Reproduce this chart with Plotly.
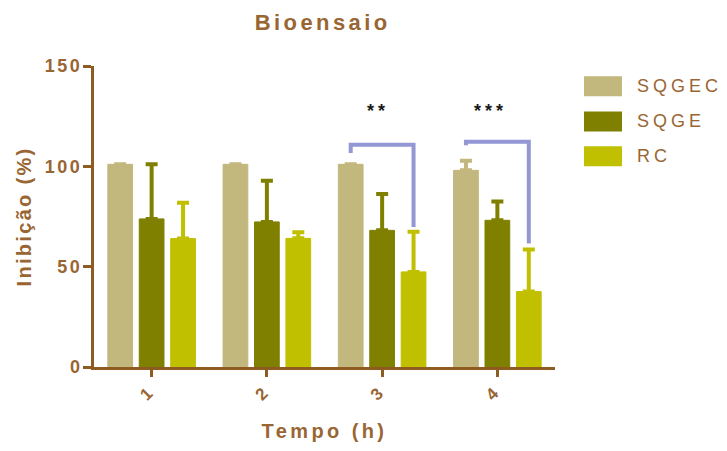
import plotly.graph_objects as go

# ---- data ----
tempo = [1, 2, 3, 4]
tick_labels = ["1", "2", "3", "4"]
y_ticks = [0, 50, 100, 150]
series_names = ["SQGEC", "SQGE", "RC"]
sqgec = [101, 101, 101, 98]
sqgec_err = [0, 0, 0, 4.8]
sqge = [73.8, 72.3, 68.1, 73.1]
sqge_err = [27.3, 20.5, 18.1, 9.4]
rc = [64.0, 64.1, 47.4, 37.6]
rc_err = [17.8, 3.0, 20.0, 21.0]
# significance brackets
sig_groups = [3, 4]
sig_labels = ["**", "***"]
sig_left_end = [106.6, 110.5]
sig_level = [110.7, 112.3]
sig_right_end = [69.8, 61.5]
sig_text_x = [2.968, 3.942]
sig_text_y = 127.5

# ---- style ----
colors = ["#C2B77C", "#808000", "#C0C000"]
axis_col = "#8E5C20"
text_col = "#996633"
bracket_col = "#9397D3"
FONT = "Liberation Sans, Arial, sans-serif"
BARGAP = 0.182
BARGROUPGAP = 0.213


def spaced(t, px):
    return f'<span style="letter-spacing:{px}px">{t}</span>'


fig = go.Figure()
for name, vals, errs, col in zip(series_names, [sqgec, sqge, rc],
                                 [sqgec_err, sqge_err, rc_err], colors):
    fig.add_trace(go.Bar(
        x=tempo, y=vals, name=name,
        marker=dict(color=col, line=dict(color=col, width=1)),
        error_y=dict(type="data", symmetric=False, array=errs,
                     arrayminus=[0] * len(errs), color=col,
                     thickness=4, width=6),
        showlegend=False,
    ))

slot = (1 - BARGAP) / 3.0
for g, lab, le, lv, re_, tx in zip(sig_groups, sig_labels, sig_left_end,
                                    sig_level, sig_right_end, sig_text_x):
    xl = g - slot
    xr = g + slot
    fig.add_shape(type="path", xref="x", yref="y",
                  path=f"M{xl},{le} L{xl},{lv} L{xr},{lv} L{xr},{re_}",
                  line=dict(color=bracket_col, width=4))
    fig.add_annotation(x=tx, y=sig_text_y, xref="x", yref="y", text=spaced(lab, 4),
                       showarrow=False,
                       font=dict(family=FONT, size=18, color="#1a1a1a", weight="bold"))

# manual legend (wide swatches like the original)
row_y = [0.9326, 0.816, 0.700]
for name, col, ry in zip(series_names, colors, row_y):
    fig.add_shape(type="rect", xref="paper", yref="paper",
                  x0=1.0629, x1=1.1453, y0=ry - 0.0332, y1=ry + 0.0332,
                  fillcolor=col, line=dict(width=0))
    fig.add_annotation(x=1.1735, y=ry, xref="paper", yref="paper", text=spaced(name, 4),
                       showarrow=False, xanchor="left", yanchor="middle",
                       font=dict(family=FONT, size=18, color=text_col))

# page body has an 8px margin -> figure is 8px smaller and margins shifted by 8
W, H = 719, 443
fig.update_layout(
    width=W, height=H,
    margin=dict(l=86, r=172, t=58, b=84, autoexpand=False),
    paper_bgcolor="white", plot_bgcolor="white",
    barmode="group", bargap=BARGAP, bargroupgap=BARGROUPGAP,
    font=dict(family=FONT, color=text_col),
    title=dict(text="<b>" + spaced("Bioensaio", 3.4) + "</b>", x=0.496, xref="paper",
               xanchor="center", y=1 - 14 / H, yref="container", yanchor="middle",
               font=dict(family=FONT, size=22, color=text_col)),
)
fig.update_xaxes(
    range=[0.5, 4.5], tickvals=tempo, ticktext=tick_labels, tickangle=-45,
    ticklabelshift=-4,
    showline=True, linecolor=axis_col, linewidth=3,
    ticks="outside", ticklen=7, tickwidth=3, tickcolor=axis_col,
    tickfont=dict(family=FONT, size=17, color=text_col, weight="bold"),
    showgrid=False, zeroline=False, automargin=False,
    title=dict(text="<b>" + spaced("Tempo (h)", 3.4) + "</b>",
               font=dict(family=FONT, size=20, color=text_col), standoff=21),
)
fig.update_yaxes(
    range=[0, 150], tickvals=y_ticks, ticktext=[spaced(str(v), 2.5) for v in y_ticks],
    ticklabelstandoff=-3,
    showline=True, linecolor=axis_col, linewidth=3,
    ticks="outside", ticklen=8, tickwidth=3, tickcolor=axis_col,
    tickfont=dict(family=FONT, size=18, color=text_col, weight="bold"),
    showgrid=False, zeroline=False, automargin=False,
    title=dict(text="<b>" + spaced("Inibição (%)", 2.3) + "</b>",
               font=dict(family=FONT, size=20, color=text_col), standoff=8),
)

fig.write_html("out.html")
